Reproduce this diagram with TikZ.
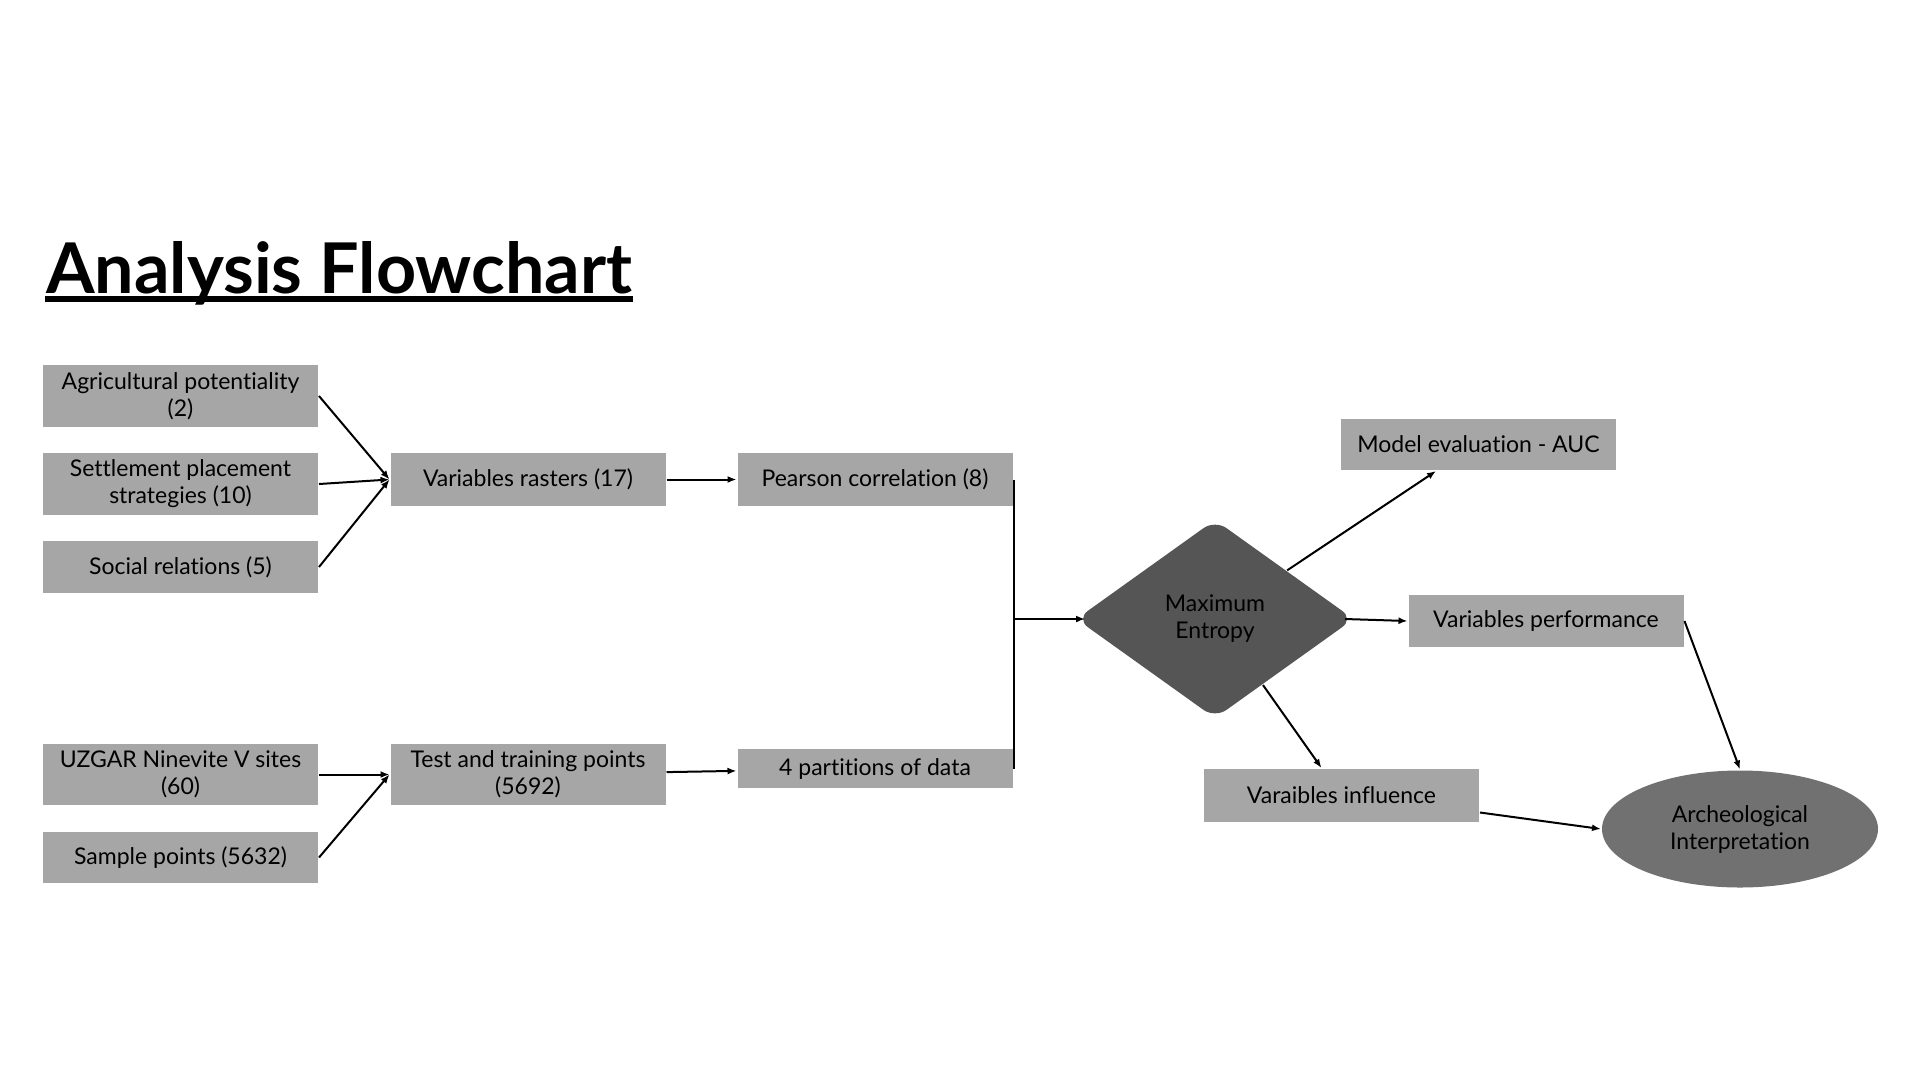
\documentclass[tikz,border=0pt]{standalone}
\usepackage{fontspec}
\setmainfont{Lato}[Ligatures={NoCommon,NoRare,NoDiscretionary}]
\usetikzlibrary{shapes.geometric,arrows.meta}
\definecolor{boxgray}{HTML}{A6A6A6}
\definecolor{diagray}{HTML}{555555}
\definecolor{ellgray}{HTML}{717171}
\begin{document}
\begin{tikzpicture}[x=1pt,y=-1pt,line width=2pt,>={Latex[length=9pt,width=7pt]},
box/.style={fill=boxgray,minimum width=275pt,inner sep=0pt,align=center,font=\fontsize{23}{27}\selectfont}]
\useasboundingbox(0,0)rectangle(1920,1080);
\node[anchor=base west,inner sep=0pt,font=\fontsize{70}{84}\selectfont\bfseries](title)at(45,293){Analysis Flowchart};
\draw[line width=6pt]([yshift=-6pt]title.base west)--([yshift=-6pt]title.base east);
\node[box,minimum height=62pt](agri)at(180.5,396){Agricultural potentiality\\(2)};
\node[box,minimum height=62pt](settle)at(180.5,484){Settlement placement\\strategies (10)};
\node[box,minimum height=52pt](social)at(180.5,567){Social relations (5)};
\node[box,minimum height=53pt](rast)at(528,479.5){Variables rasters (17)};
\node[box,minimum height=53pt](pear)at(875,479.5){Pearson correlation (8)};
\node[box,minimum height=61pt](uzgar)at(180.5,774.5){UZGAR Ninevite V sites\\(60)};
\node[box,minimum height=51pt](sample)at(180.5,857.5){Sample points (5632)};
\node[box,minimum height=61pt](test)at(528,774.5){Test and training points\\(5692)};
\node[box,minimum height=39pt](part)at(875,768.5){4 partitions of data};
\node[box,shape=diamond,fill=diagray,minimum width=278pt,minimum height=199pt,rounded corners=14pt](dia)at(1215,619){Maximum\\Entropy};
\node[box,minimum height=51pt](eval)at(1478.5,444.5){Model evaluation - AUC};
\node[box,minimum height=52pt](perf)at(1546,621){Variables performance};
\node[box,minimum height=53pt](infl)at(1341.5,795.5){Varaibles influence};
\node[box,shape=ellipse,fill=ellgray,minimum width=276pt,minimum height=117pt](interp)at(1740,829){Archeological\\Interpretation};
\foreach\n in{agri,settle,social}\draw[->](\n.east)--(rast.west);
\draw[->](rast)--(pear);
\foreach\n in{uzgar,sample}\draw[->](\n.east)--(test.west);
\draw[->](test)--(part);
\draw(pear.east)--(part.east);
\draw[->](pear.east|-dia.west)--([xshift=10pt]dia.west);
\draw[->](dia.34)--(eval.212.5);
\draw[->]([xshift=-10pt]dia.east)--(perf.west);
\draw[->](dia.-54)--(infl.126);
\draw[->](perf.east)--(interp.north);
\draw[->](infl.-7)--(interp.west);
\end{tikzpicture}
\end{document}
